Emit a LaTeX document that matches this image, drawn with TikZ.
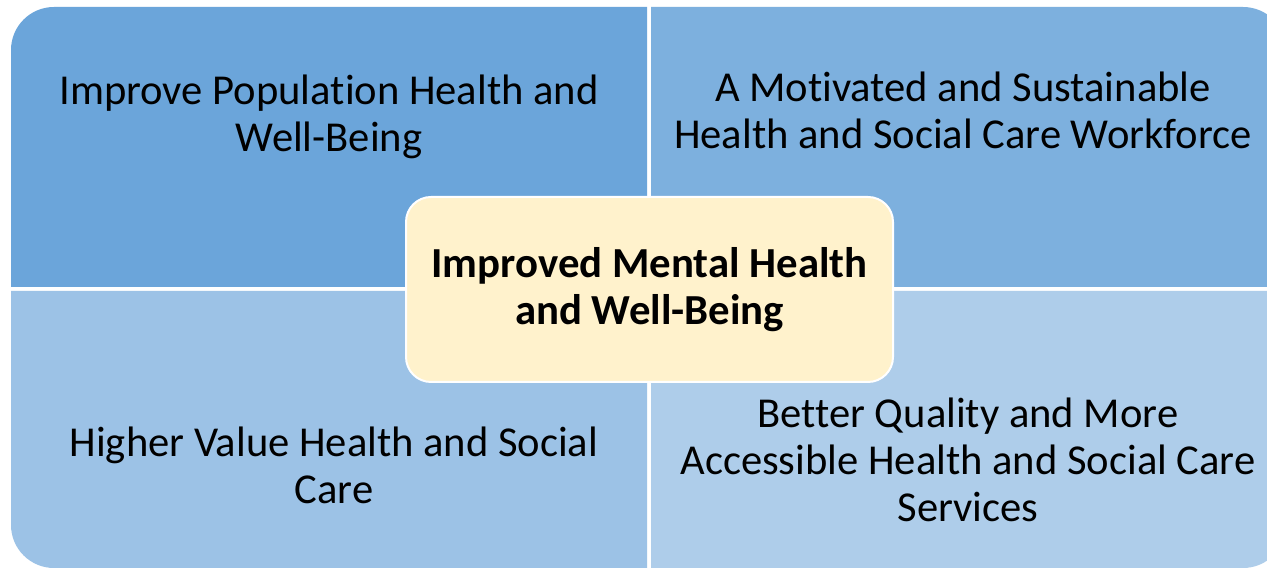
\documentclass[tikz,border=0pt]{standalone}
\usepackage{fontspec}
\setmainfont[Ligatures={NoCommon,NoRequired},Contextuals=NoAlternate]{Carlito}
\definecolor{quadA}{HTML}{6BA5DA}
\definecolor{quadB}{HTML}{7DB0DE}
\definecolor{quadC}{HTML}{9CC2E6}
\definecolor{quadD}{HTML}{AECDEA}
\definecolor{corefill}{HTML}{FFF2CC}
\begin{document}
\begin{tikzpicture}[x=1pt,y=1pt,
  quadtext/.style={align=center,text=black,inner sep=0pt,
    font=\fontsize{42.6}{47}\selectfont},
  corebox/.style={draw=white,line width=2pt,fill=corefill,rounded corners=25pt,
    minimum width=487pt,minimum height=185pt,align=center,
    font=\bfseries\fontsize{42.8}{47}\selectfont}]
\useasboundingbox (0,0) rectangle (1267,569);
\fill[white] (0,0) rectangle (1267,569);
\begin{scope}
\clip (0,0) rectangle (1267,569);
% four quadrants, each rounded at its outer corner
\fill[quadA] (647,282) -- (11,282) -- (11,519) arc[start angle=180,end angle=90,radius=43] -- (647,562) -- cycle;
\fill[quadB] (651,282) -- (651,562) -- (1243,562) arc[start angle=90,end angle=0,radius=43] -- (1286,282) -- cycle;
\fill[quadC] (647,278) -- (11,278) -- (11,44) arc[start angle=180,end angle=270,radius=43] -- (647,1) -- cycle;
\fill[quadD] (651,278) -- (1286,278) -- (1286,44) arc[start angle=0,end angle=-90,radius=43] -- (651,1) -- cycle;
\end{scope}
% quadrant labels
\node[quadtext] (popn) at (329,452.5) {Improve Population Health and\\Well-Being};
\node[quadtext] (work) at (963,458.5) {A Motivated and Sustainable\\Health and Social Care Workforce};
\node[quadtext] (value) at (334,103.5) {Higher Value Health and Social\\Care};
\node[quadtext] (serv) at (968,109) {Better Quality and More\\Accessible Health and Social Care\\Services};
% central goal
\node[corebox] (core) at (649.5,279.5) {Improved Mental Health\\and Well-Being};
\end{tikzpicture}
\end{document}
